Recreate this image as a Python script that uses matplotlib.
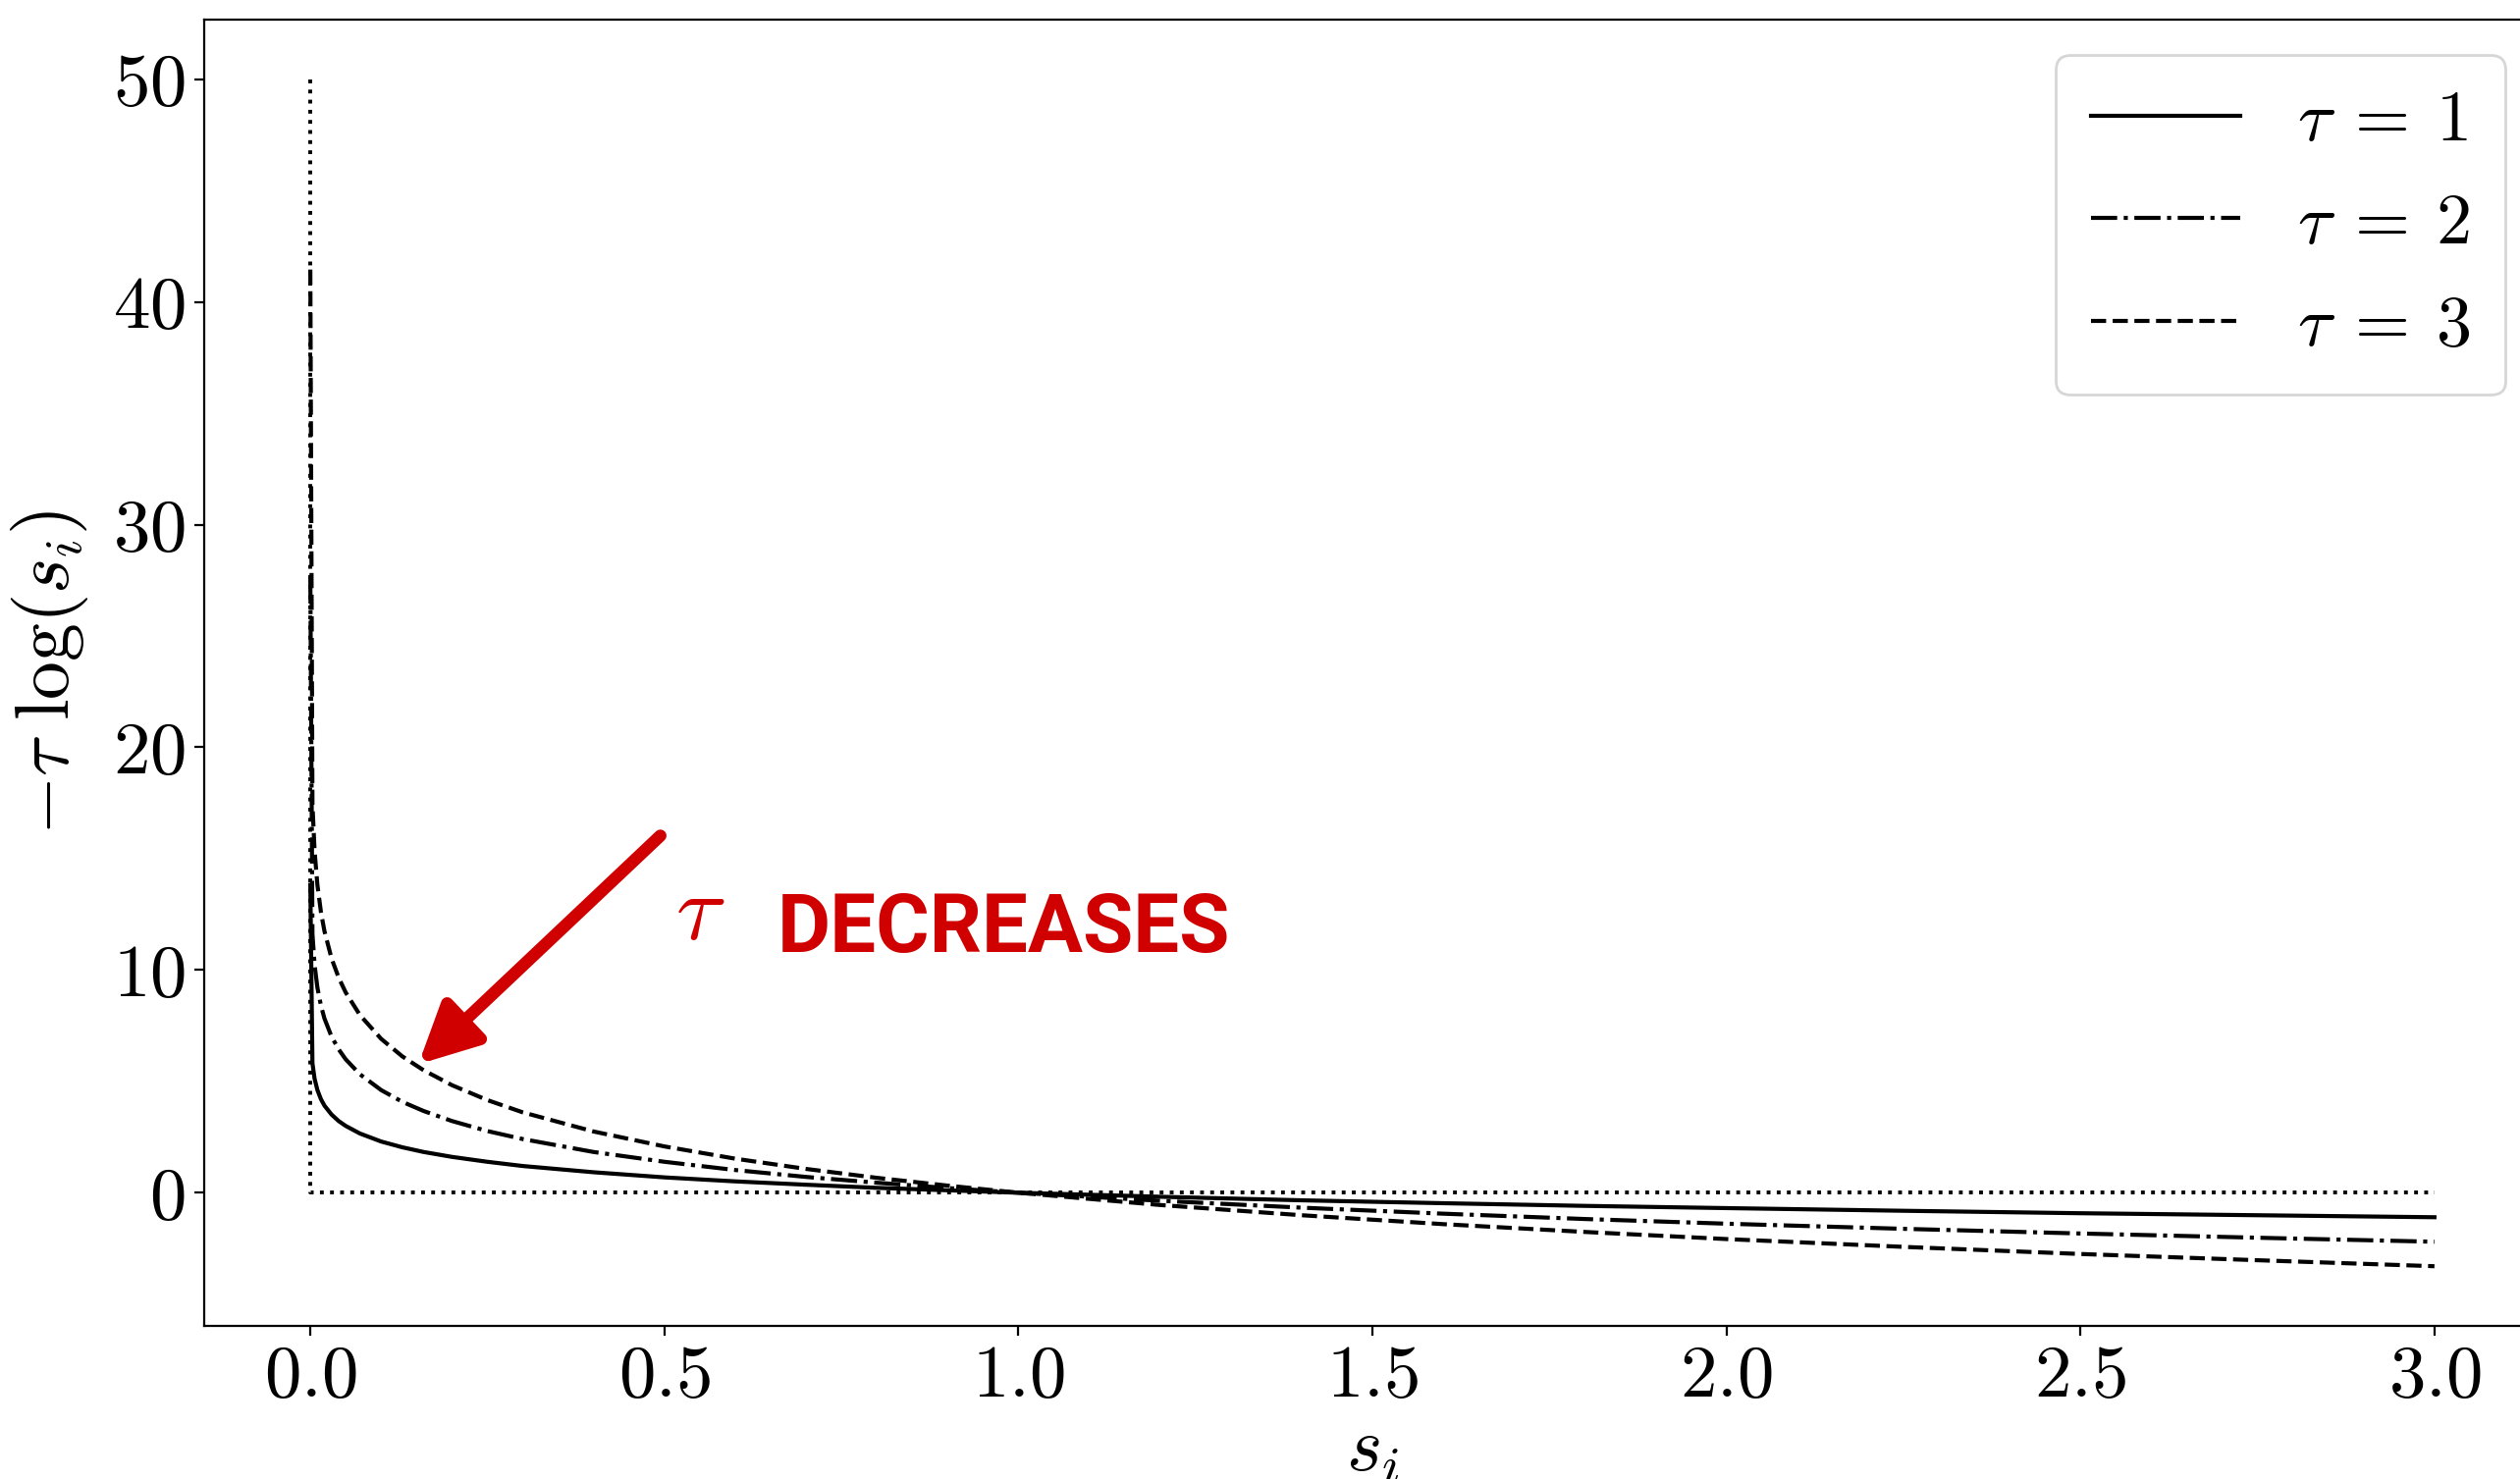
import matplotlib
matplotlib.use('Agg')
import matplotlib.pyplot as plt

# sample points
s_vals = [0.000001, 0.003, 0.006, 0.01, 0.015, 0.02, 0.03, 0.04, 0.05, 0.07, 0.1, 0.13, 0.16,
          0.2, 0.25, 0.3, 0.4, 0.5, 0.6, 0.7, 0.8, 0.9, 1.0, 1.2, 1.4, 1.6, 1.8, 2.0, 2.25,
          2.5, 2.75, 3.0]
tau1 = [13.82, 5.81, 5.12, 4.61, 4.20, 3.91, 3.51, 3.22, 3.00, 2.66, 2.30, 2.04, 1.83,
        1.61, 1.39, 1.20, 0.92, 0.69, 0.51, 0.36, 0.22, 0.11, 0.00, -0.18, -0.34, -0.47,
        -0.59, -0.69, -0.81, -0.92, -1.01, -1.10]
tau2 = [27.63, 11.62, 10.23, 9.21, 8.40, 7.82, 7.01, 6.44, 5.99, 5.32, 4.61, 4.08, 3.67,
        3.22, 2.77, 2.41, 1.83, 1.39, 1.02, 0.71, 0.45, 0.21, 0.00, -0.36, -0.67, -0.94,
        -1.18, -1.39, -1.62, -1.83, -2.02, -2.20]
tau3 = [41.45, 17.43, 15.35, 13.82, 12.60, 11.74, 10.52, 9.66, 8.99, 7.98, 6.91, 6.12, 5.50,
        4.83, 4.16, 3.61, 2.75, 2.08, 1.53, 1.07, 0.67, 0.32, 0.00, -0.55, -1.01, -1.41,
        -1.76, -2.08, -2.43, -2.75, -3.03, -3.30]
labels = [r'$\tau\:=\:1$', r'$\tau\:=\:2$', r'$\tau\:=\:3$']

# dotted guide lines
guide_x = [0, 0, 3]
guide_y = [50, 0, 0]

plt.rcParams['mathtext.fontset'] = 'cm'
plt.rcParams['font.family'] = 'serif'
plt.rcParams['font.serif'] = ['cmr10']
plt.rcParams['axes.formatter.use_mathtext'] = True

fig = plt.figure(figsize=(12.835, 7.535), dpi=200)
# right spine falls just outside the picture, as in the original crop
ax = fig.add_axes([0.081, 0.1035, 0.9272, 0.8832])

ax.plot(guide_x, guide_y, color='black', linestyle=':', lw=1.4)
ax.plot(s_vals, tau1, color='black', linestyle='-', lw=1.5, label=labels[0])
ax.plot(s_vals, tau2, color='black', linestyle='-.', lw=1.5, label=labels[1])
ax.plot(s_vals, tau3, color='black', linestyle='--', lw=1.5, label=labels[2])

ax.set_xlim(-0.15, 3.15)
ax.set_ylim(-5.98, 52.67)
ax.set_xticks([0.0, 0.5, 1.0, 1.5, 2.0, 2.5, 3.0])
ax.set_yticks([0, 10, 20, 30, 40, 50])
ax.tick_params(labelsize=27)

ax.set_xlabel(r'$s_i$', fontsize=28, labelpad=3)
ax.set_ylabel(r'$-\tau\ \log(s_i)$', fontsize=28, labelpad=8)

ax.legend(loc='upper right', fontsize=26, labelspacing=0.55, handlelength=2.1,
          handletextpad=0.8, borderpad=0.5, borderaxespad=0.5)

# red hand-written note
red = '#d10000'
ax.annotate('', xy=(0.147, 5.6), xytext=(0.50, 16.2),
            arrowprops=dict(arrowstyle='-|>', color=red, lw=4.5, mutation_scale=45))
ax.text(0.55, 12.4, r'$\tau$', color=red, fontsize=34, ha='center', va='center')
ax.text(0.66, 11.8, 'DECREASES', color=red, fontsize=30, fontweight='bold',
        family='Roboto', ha='left', va='center')

fig.savefig('out.png', dpi=200)
